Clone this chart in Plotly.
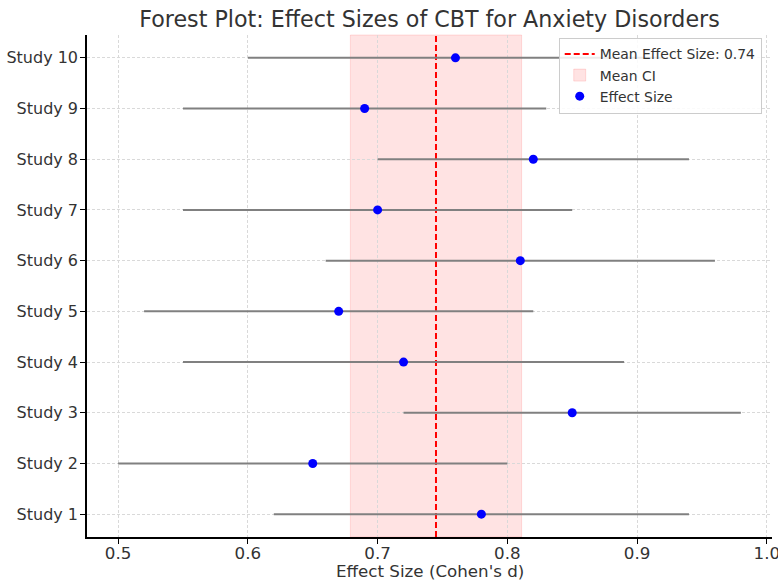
import plotly.graph_objects as go

studies = ["Study 1", "Study 2", "Study 3", "Study 4", "Study 5",
           "Study 6", "Study 7", "Study 8", "Study 9", "Study 10"]
effect = [0.78, 0.65, 0.85, 0.72, 0.67, 0.81, 0.70, 0.82, 0.69, 0.76]
ci_low = [0.62, 0.50, 0.72, 0.55, 0.52, 0.66, 0.55, 0.70, 0.55, 0.60]
ci_high = [0.94, 0.80, 0.98, 0.89, 0.82, 0.96, 0.85, 0.94, 0.83, 0.92]
mean_effect = 0.745
mean_ci = [0.679, 0.811]
mean_label = "Mean Effect Size: 0.74"
x_ticks = [0.5, 0.6, 0.7, 0.8, 0.9, 1.0]
x_ticktext = ["0.5", "0.6", "0.7", "0.8", "0.9", "1.0"]

err_plus = [h - e for h, e in zip(ci_high, effect)]
err_minus = [e - l for e, l in zip(effect, ci_low)]
ypos = list(range(len(studies)))

FONT = "DejaVu Sans"
TXT = "#333333"

fig = go.Figure()

fig.add_vrect(x0=mean_ci[0], x1=mean_ci[1], fillcolor="rgba(255,0,0,0.11)",
              line=dict(color="rgba(255,0,0,0.12)", width=1), layer="below",
              showlegend=True, name="Mean CI", legendrank=2)

fig.add_trace(go.Scatter(
    x=[mean_effect, mean_effect], y=[-0.45, 9.45], mode="lines",
    line=dict(color="red", width=2, dash="6px,3px"), name=mean_label,
    legendrank=1))

fig.add_trace(go.Scatter(
    x=effect, y=ypos, mode="markers",
    marker=dict(color="blue", size=9),
    error_x=dict(type="data", symmetric=False, array=err_plus,
                 arrayminus=err_minus, color="gray", thickness=2, width=0),
    name="Effect Size", legendrank=3))

fig.add_annotation(text="Effect Size (Cohen's d)", xref="paper", yref="paper",
                   x=0.5, y=0, xanchor="center", yanchor="middle", yshift=-34,
                   showarrow=False, font=dict(size=16.7, color=TXT))

fig.update_layout(
    width=778, height=583,
    margin=dict(l=87, r=6, t=35, b=46),
    plot_bgcolor="white", paper_bgcolor="white",
    font=dict(family=FONT, color=TXT, size=16.7),
    title=dict(text="Forest Plot: Effect Sizes of CBT for Anxiety Disorders",
               xref="paper", x=0.5, xanchor="center", y=0.967, yanchor="middle",
               font=dict(size=22.2, color=TXT)),
    legend=dict(x=0.985, y=0.995, xanchor="right", yanchor="top",
                bgcolor="rgba(255,255,255,0.85)", bordercolor="#cccccc",
                borderwidth=1, font=dict(size=13.9, color=TXT), tracegroupgap=0,
                itemwidth=30),
    xaxis=dict(range=[0.476, 1.004], tickvals=x_ticks, ticktext=x_ticktext,
               automargin=False, ticklabeloverflow="allow", ticklabelstandoff=-5,
               showgrid=True, gridcolor="#d9d9d9", griddash="3px,2px", gridwidth=0.8,
               zeroline=False, showline=True, linecolor="black", linewidth=1.5,
               ticks="outside", ticklen=5, tickcolor="black"),
    yaxis=dict(range=[-0.45, 9.45], tickvals=ypos, ticktext=studies,
               automargin=False, ticklabelstandoff=-1, tickfont=dict(size=16),
               showgrid=True, gridcolor="#d9d9d9", griddash="3px,2px", gridwidth=0.8,
               zeroline=False, showline=True, linecolor="black", linewidth=1.5,
               ticks="outside", ticklen=5, tickcolor="black"),
)

fig.write_html("out.html", config={"displayModeBar": False},
               post_script="document.body.style.margin='0';")
